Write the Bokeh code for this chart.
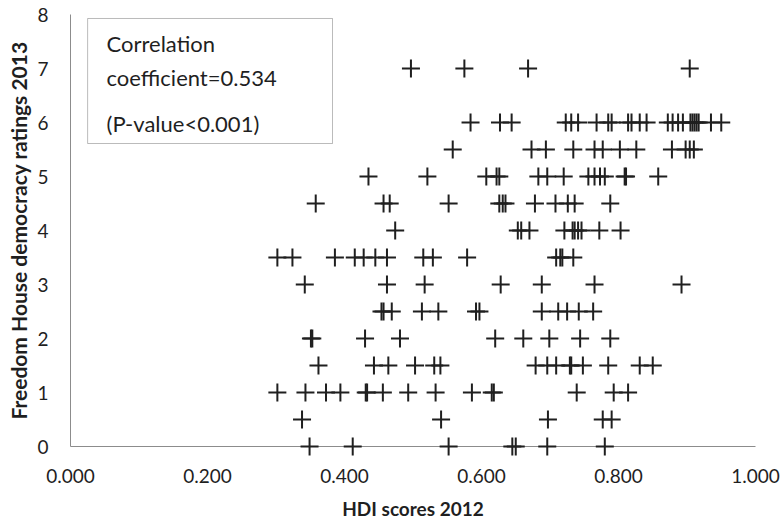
from bokeh.plotting import figure
from bokeh.models import Range1d, BoxAnnotation, Label, FixedTicker, NumeralTickFormatter
from bokeh.embed import file_html
from bokeh.resources import INLINE

# HDI scores 2012 grouped by Freedom House democracy rating 2013
hdi_r7 = [0.497, 0.575, 0.668, 0.904]
hdi_r6 = [0.584, 0.627, 0.644, 0.723, 0.731, 0.741, 0.768, 0.785, 0.790, 0.814,
          0.819, 0.831, 0.841, 0.872, 0.879, 0.887, 0.894, 0.905, 0.908, 0.911,
          0.914, 0.917, 0.935, 0.950]
hdi_r5_5 = [0.558, 0.673, 0.694, 0.734, 0.765, 0.777, 0.802, 0.826, 0.878, 0.898,
            0.904, 0.910]
hdi_r5 = [0.435, 0.521, 0.607, 0.622, 0.626, 0.683, 0.696, 0.720, 0.756, 0.765,
          0.773, 0.780, 0.809, 0.811, 0.858]
hdi_r4_5 = [0.358, 0.457, 0.466, 0.552, 0.626, 0.631, 0.635, 0.678, 0.708, 0.726,
            0.736, 0.788]
hdi_r4 = [0.474, 0.653, 0.658, 0.670, 0.721, 0.733, 0.736, 0.741, 0.746, 0.772, 0.803]
hdi_r3_5 = [0.302, 0.324, 0.386, 0.415, 0.428, 0.445, 0.462, 0.515, 0.529, 0.579,
            0.709, 0.715, 0.718, 0.734]
hdi_r3 = [0.342, 0.462, 0.517, 0.628, 0.688, 0.765, 0.892]
hdi_r2_5 = [0.454, 0.457, 0.469, 0.513, 0.537, 0.592, 0.597, 0.688, 0.712, 0.725,
            0.742, 0.763]
hdi_r2 = [0.351, 0.353, 0.430, 0.481, 0.620, 0.661, 0.699, 0.744, 0.788]
hdi_r1_5 = [0.362, 0.443, 0.464, 0.503, 0.531, 0.540, 0.679, 0.696, 0.709, 0.729,
            0.731, 0.748, 0.785, 0.831, 0.850]
hdi_r1 = [0.302, 0.343, 0.373, 0.394, 0.431, 0.433, 0.456, 0.493, 0.533, 0.586,
          0.615, 0.618, 0.739, 0.793, 0.814]
hdi_r0_5 = [0.338, 0.541, 0.697, 0.777, 0.790]
hdi_r0 = [0.349, 0.412, 0.552, 0.645, 0.650, 0.696, 0.780]

ratings = [7, 6, 5.5, 5, 4.5, 4, 3.5, 3, 2.5, 2, 1.5, 1, 0.5, 0]
groups = [hdi_r7, hdi_r6, hdi_r5_5, hdi_r5, hdi_r4_5, hdi_r4, hdi_r3_5, hdi_r3,
          hdi_r2_5, hdi_r2, hdi_r1_5, hdi_r1, hdi_r0_5, hdi_r0]

x_ticks = [0.0, 0.2, 0.4, 0.6, 0.8, 1.0]
y_ticks = [0, 1, 2, 3, 4, 5, 6, 7, 8]

x_title = "HDI scores 2012"
y_title = "Freedom House democracy ratings 2013"
box_lines = ["Correlation", "coefficient=0.534", "(P-value<0.001)"]

xs, ys = [], []
for r, g in zip(ratings, groups):
    xs.extend(g)
    ys.extend([r] * len(g))

FONT = "Lato"
INK = "#1f1f1f"

p = figure(width=783, height=524, min_border_left=70, min_border_right=28,
           min_border_top=14, min_border_bottom=78,
           x_range=Range1d(0, 1), y_range=Range1d(0, 8),
           output_backend="svg", toolbar_location=None)

r = p.scatter(xs, ys, marker="cross", size=18, line_width=2, line_color=INK)
r.level = "overlay"

p.xaxis.ticker = FixedTicker(ticks=x_ticks)
p.xaxis.formatter = NumeralTickFormatter(format="0.000")
p.yaxis.ticker = FixedTicker(ticks=y_ticks)
p.xgrid.grid_line_color = None
p.ygrid.grid_line_color = None
p.outline_line_color = None
p.axis.major_tick_line_color = None
p.axis.minor_tick_line_color = None
p.axis.major_tick_out = 0
p.axis.major_tick_in = 0
p.axis.minor_tick_out = 0
p.axis.minor_tick_in = 0
p.axis.axis_line_color = "#8c8c8c"
p.axis.major_label_text_font = FONT
p.axis.major_label_text_font_size = "19px"
p.axis.major_label_text_color = INK
p.axis.axis_label_text_font = FONT
p.axis.axis_label_text_font_style = "bold"
p.axis.axis_label_text_color = INK
p.xaxis.axis_label_text_font_size = "19px"
p.yaxis.axis_label_text_font_size = "21px"
p.xaxis.axis_label = x_title
p.yaxis.axis_label = y_title
p.xaxis.major_label_standoff = 22
p.xaxis.axis_label_standoff = 11
p.yaxis.major_label_standoff = 22
p.yaxis.axis_label_standoff = 3

box = BoxAnnotation(left=0.025, right=0.3825, bottom=5.611, top=7.926,
                    fill_color="white", fill_alpha=1.0,
                    line_color=INK, line_width=1)
p.add_layout(box)

for txt, yy in zip(box_lines, [7.463, 6.833, 5.981]):
    p.add_layout(Label(x=0.0526, y=yy, text=txt, text_font=FONT,
                       text_font_size="22px", text_color=INK,
                       text_baseline="middle", text_align="left"))

open("out.html", "w").write(file_html(p, INLINE))
